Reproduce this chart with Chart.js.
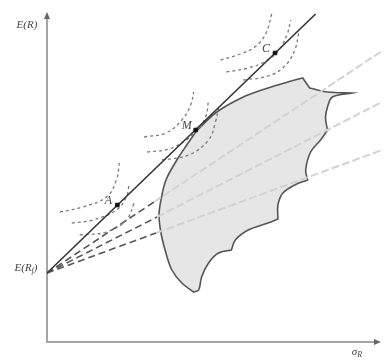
<!DOCTYPE html>
<html>
<head>
<meta charset="utf-8">
<script src="https://cdn.jsdelivr.net/npm/chart.js@4.4.0/dist/chart.umd.min.js"></script>
<style>
  html, body { margin: 0; padding: 0; background: #fff; }
  #wrap { width: 387px; height: 363px; }
</style>
</head>
<body>
<div id="wrap"><canvas id="c"></canvas></div>
<script>
// sigma on x, E(R) on y, arbitrary units
const riskFree = { x: 0, y: 69 };
const cmlEnd = { x: 271, y: 328 };

const pointLabels = ['A', 'M', 'C'];
const pointValues = [{ x: 71, y: 137 }, { x: 150, y: 212 }, { x: 230, y: 289 }];

// where the dashed lines from E(Rf) meet the frontier, and where they leave the plot
const rayHits = [{ x: 108, y: 140 }, { x: 111, y: 125 }, { x: 110, y: 109 }];
const rayEnds = [{ x: 338, y: 291 }, { x: 338, y: 240 }, { x: 338, y: 192 }];

// outline of the feasible set (cusp points listed twice to keep them sharp)
const frontier = [
  { x: 150, y: 210 }, { x: 170, y: 229 }, { x: 196, y: 244 }, { x: 223, y: 254 }, { x: 243, y: 260 },
  { x: 258, y: 264 }, { x: 258, y: 264 },
  { x: 265, y: 254 }, { x: 265, y: 254 },
  { x: 283, y: 250 },
  { x: 308, y: 249 }, { x: 308, y: 249 },
  { x: 288, y: 245 }, { x: 283, y: 235 }, { x: 281, y: 224 },
  { x: 283, y: 212 }, { x: 283, y: 212 },
  { x: 276, y: 202 }, { x: 266, y: 190 }, { x: 261, y: 172 },
  { x: 263, y: 162 }, { x: 263, y: 162 },
  { x: 250, y: 157 }, { x: 238, y: 149 }, { x: 233, y: 137 },
  { x: 233, y: 123 }, { x: 233, y: 123 },
  { x: 223, y: 119 }, { x: 203, y: 112 }, { x: 190, y: 102 },
  { x: 186, y: 92 }, { x: 186, y: 92 },
  { x: 173, y: 89 }, { x: 163, y: 79 }, { x: 156, y: 65 }, { x: 153, y: 52 },
  { x: 148, y: 50 }, { x: 148, y: 50 },
  { x: 136, y: 59 }, { x: 126, y: 72 }, { x: 120, y: 89 }, { x: 115, y: 109 }, { x: 113, y: 127 },
  { x: 115, y: 142 }, { x: 120, y: 162 }, { x: 131, y: 182 }, { x: 141, y: 197 }, { x: 150, y: 210 }
];

// indifference curves around A, M and C
const curvesA = [
  [{ x: 13, y: 130 }, { x: 36, y: 135 }, { x: 60, y: 145 }, { x: 70, y: 162 }, { x: 73, y: 179 }],
  [{ x: 25, y: 119 }, { x: 46, y: 122 }, { x: 70, y: 132 }, { x: 80, y: 145 }, { x: 83, y: 159 }],
  [{ x: 33, y: 107 }, { x: 60, y: 110 }, { x: 80, y: 122 }, { x: 88, y: 139 }]
];
const curvesM = [
  [{ x: 98, y: 205 }, { x: 120, y: 209 }, { x: 136, y: 222 }, { x: 145, y: 237 }, { x: 148, y: 250 }],
  [{ x: 101, y: 190 }, { x: 126, y: 194 }, { x: 150, y: 210 }, { x: 160, y: 225 }, { x: 163, y: 242 }],
  [{ x: 116, y: 182 }, { x: 143, y: 187 }, { x: 163, y: 202 }, { x: 170, y: 220 }, { x: 173, y: 234 }]
];
const curvesC = [
  [{ x: 175, y: 282 }, { x: 195, y: 288 }, { x: 211, y: 296 }, { x: 221, y: 309 }, { x: 227, y: 329 }],
  [{ x: 181, y: 270 }, { x: 203, y: 274 }, { x: 221, y: 281 }, { x: 234, y: 292 }, { x: 242, y: 307 }, { x: 246, y: 322 }],
  [{ x: 198, y: 262 }, { x: 223, y: 266 }, { x: 240, y: 276 }, { x: 250, y: 292 }, { x: 254, y: 309 }]
];

const datasets = [];

// points on the CML
datasets.push({
  data: pointValues, showLine: false, pointStyle: 'rect', pointRadius: 2.5,
  backgroundColor: '#111', borderColor: '#111', order: 0
});

// capital market line
datasets.push({
  data: [riskFree, cmlEnd], showLine: true, borderColor: '#333', borderWidth: 1.6,
  pointRadius: 0, order: 1
});

[...curvesA, ...curvesM, ...curvesC].forEach(c => {
  datasets.push({
    data: c, showLine: true, borderColor: '#7a7a7a', borderWidth: 1.3, borderDash: [3, 3],
    tension: 0.4, pointRadius: 0, order: 2
  });
});

rayHits.forEach((hit, i) => {
  datasets.push({
    data: [riskFree, hit], showLine: true, borderColor: '#555', borderWidth: 1.6,
    borderDash: [7, 4], pointRadius: 0, order: 3
  });
  datasets.push({
    data: [hit, rayEnds[i]], showLine: true, borderColor: '#d2d2d2', borderWidth: 2,
    borderDash: [8, 3], pointRadius: 0, order: 5
  });
});

// feasible set
datasets.push({
  data: frontier, showLine: true, fill: 'shape', backgroundColor: '#e6e6e6',
  borderColor: '#555', borderWidth: 1.6, tension: 0.35, pointRadius: 0, order: 10
});

const subText = (ctx, parts, x, y) => {
  // parts: [text, isSub]
  let w = 0;
  parts.forEach(([t, sub]) => {
    ctx.font = sub ? 'italic 8px "Liberation Serif"' : 'italic 11px "Liberation Serif"';
    w += ctx.measureText(t).width;
  });
  let cx = x - w / 2;
  parts.forEach(([t, sub]) => {
    ctx.font = sub ? 'italic 8px "Liberation Serif"' : 'italic 11px "Liberation Serif"';
    ctx.fillText(t, cx, sub ? y + 3 : y);
    cx += ctx.measureText(t).width;
  });
};

const diagram = {
  id: 'diagram',
  beforeDatasetsDraw(chart) {
    const { ctx, scales: { x, y } } = chart;
    const x0 = x.getPixelForValue(0), y0 = y.getPixelForValue(0);
    const xEnd = x.getPixelForValue(x.max), yEnd = y.getPixelForValue(y.max);
    ctx.save();
    ctx.strokeStyle = '#a5a5a5';
    ctx.lineWidth = 2;
    ctx.beginPath();
    ctx.moveTo(x0, y0 + 1); ctx.lineTo(x0, yEnd + 6);
    ctx.moveTo(x0 - 1, y0); ctx.lineTo(xEnd - 5, y0);
    ctx.stroke();
    ctx.fillStyle = '#666';
    ctx.beginPath();
    ctx.moveTo(x0, yEnd + 2); ctx.lineTo(x0 - 3, yEnd + 9); ctx.lineTo(x0 + 3, yEnd + 9); ctx.closePath();
    ctx.fill();
    ctx.beginPath();
    ctx.moveTo(xEnd - 1, y0); ctx.lineTo(xEnd - 8, y0 - 3); ctx.lineTo(xEnd - 8, y0 + 3); ctx.closePath();
    ctx.fill();
    ctx.restore();
  },
  afterDraw(chart) {
    const { ctx, scales: { x, y } } = chart;
    ctx.save();
    ctx.fillStyle = '#444';
    ctx.textBaseline = 'middle';
    ctx.textAlign = 'left';
    subText(ctx, [['E(R)', false]], 27, 25);
    subText(ctx, [['E(R', false], ['f', true], [')', false]], 26, y.getPixelForValue(riskFree.y) - 5);
    ctx.font = 'italic 12px "Liberation Serif"';
    subText(ctx, [['σ', false], ['R', true]], 357, 352);
    ctx.textAlign = 'center';
    ctx.font = 'italic 12px "Liberation Serif"';
    pointValues.forEach((p, i) => {
      ctx.fillText(pointLabels[i], x.getPixelForValue(p.x) - 9, y.getPixelForValue(p.y) - 4);
    });
    ctx.restore();
  }
};

new Chart(document.getElementById('c'), {
  type: 'scatter',
  data: { datasets },
  options: {
    responsive: true,
    maintainAspectRatio: false,
    animation: false,
    layout: { padding: { left: 47, top: 10, right: 2, bottom: 21 } },
    scales: {
      x: { type: 'linear', min: 0, max: 338, display: false },
      y: { type: 'linear', min: 0, max: 332, display: false }
    },
    plugins: { legend: { display: false }, tooltip: { enabled: false } }
  },
  plugins: [diagram]
});
</script>
</body>
</html>
